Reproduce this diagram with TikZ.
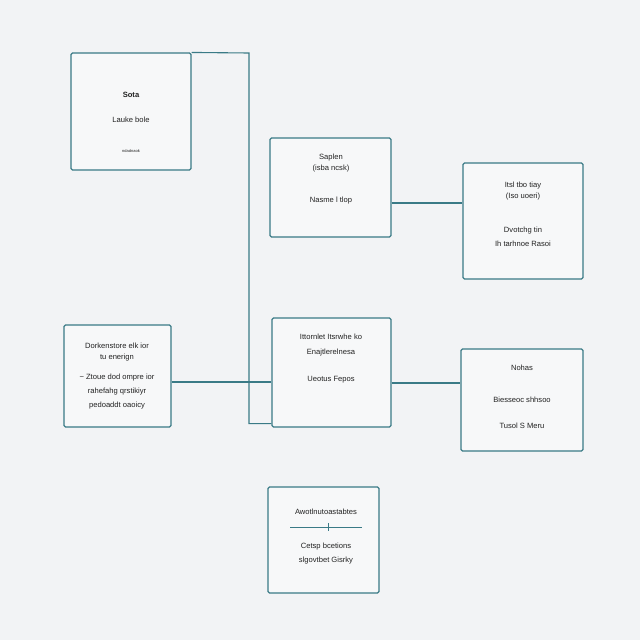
\documentclass[tikz,border=0pt]{standalone}
\usepackage{fontspec}
\setmainfont{Liberation Sans}
\usetikzlibrary{calc}
\definecolor{bg}{HTML}{F2F3F5}
\definecolor{edge}{HTML}{3A7A86}
\definecolor{ink}{HTML}{222222}
\tikzset{
  box/.style={draw=edge, line width=1.1pt, rounded corners=1.5pt, fill=white!40!bg, inner sep=0pt},
  wire/.style={draw=edge, line width=1.1pt},
  lbl/.style={text=ink, font=\fontsize{7.6}{9}\selectfont, inner sep=0pt},
  tiny/.style={text=ink, font=\fontsize{4}{5}\selectfont, inner sep=0pt}
}
\begin{document}
\begin{tikzpicture}[x=1pt,y=-1pt]
\fill[bg] (0,0) rectangle (640,640);
\useasboundingbox (0,0) rectangle (640,640);
% boxes
\node[box, minimum width=120pt, minimum height=117pt] (A) at (131,111.5) {};
\node[box, minimum width=121pt, minimum height=99pt] (B) at (330.5,187.5) {};
\node[box, minimum width=120pt, minimum height=116pt] (C) at (523,221) {};
\node[box, minimum width=107pt, minimum height=102pt] (D) at (117.5,376) {};
\node[box, minimum width=119pt, minimum height=109pt] (E) at (331.5,372.5) {};
\node[box, minimum width=122pt, minimum height=102pt] (F) at (522,400) {};
\node[box, minimum width=111pt, minimum height=106pt] (G) at (323.5,540) {};
% connectors
\coordinate (k1) at (249,53);
\draw[wire] (A.north east) -- (k1) |- ($(E.south west)+(0,-4)$);
\draw[wire] ($(D.east)+(0,6)$) -- ($(E.west)+(0,9.5)$);
\draw[wire] ($(B.east)+(0,15.5)$) -- ($(C.west)+(0,-18)$);
\draw[wire] ($(E.east)+(0,10.5)$) -- ($(F.west)+(0,-17)$);
% texts A
\node[lbl, font=\bfseries\fontsize{7.6}{9}\selectfont] (a1) at (131,95) {Sota};
\node[lbl] (a2) at (131,120) {Lauke bole};
\node[tiny] (a3) at (131,151) {ndadnaok};
% B
\node[lbl] (b1) at (331,158) {Saplen};
\node[lbl] (b2) at (331,169) {(isba ncsk)};
\node[lbl] (b3) at (331,201) {Nasme l tlop};
% C
\node[lbl] (c1) at (523,186) {Itsl tbo tiay};
\node[lbl] (c2) at (523,197) {(Iso uoeri)};
\node[lbl] (c3) at (523,231) {Dvotchg tin};
\node[lbl] (c4) at (523,244) {Ih tarhnoe Rasoi};
% D
\node[lbl] (d1) at (117,346) {Dorkenstore elk ior};
\node[lbl] (d2) at (117,358) {tu enerign};
\node[lbl] (d3) at (117,378) {\textasciitilde{} Ztoue dod ompre ior};
\node[lbl] (d4) at (117,392) {rahefahg qrstikiyr};
\node[lbl] (d5) at (117,406) {pedoaddt oaoicy};
% E
\node[lbl] (e1) at (331,337) {Ittornlet Itsrwhe ko};
\node[lbl] (e2) at (331,353) {Enajtlerelnesa};
\node[lbl] (e3) at (331,380) {Ueotus Fepos};
% F
\node[lbl] (f1) at (522,368) {Nohas};
\node[lbl] (f2) at (522,400) {Biesseoc shhsoo};
\node[lbl] (f3) at (522,426) {Tusol S Meru};
% G
\node[lbl] (g1) at (326,512) {Awotlnutoastabtes};
\coordinate (gl) at (290,527);
\coordinate (gr) at (362,527);
\coordinate (gt) at (328,527);
\draw[wire, line width=0.9pt] (gl) -- (gr);
\draw[wire, line width=0.8pt] ($(gt)+(0,-4)$) -- ($(gt)+(0,4)$);
\node[lbl] (g2) at (326,547) {Cetsp bcetions};
\node[lbl] (g3) at (326,561) {slgovtbet Gisrky};
\end{tikzpicture}
\end{document}
